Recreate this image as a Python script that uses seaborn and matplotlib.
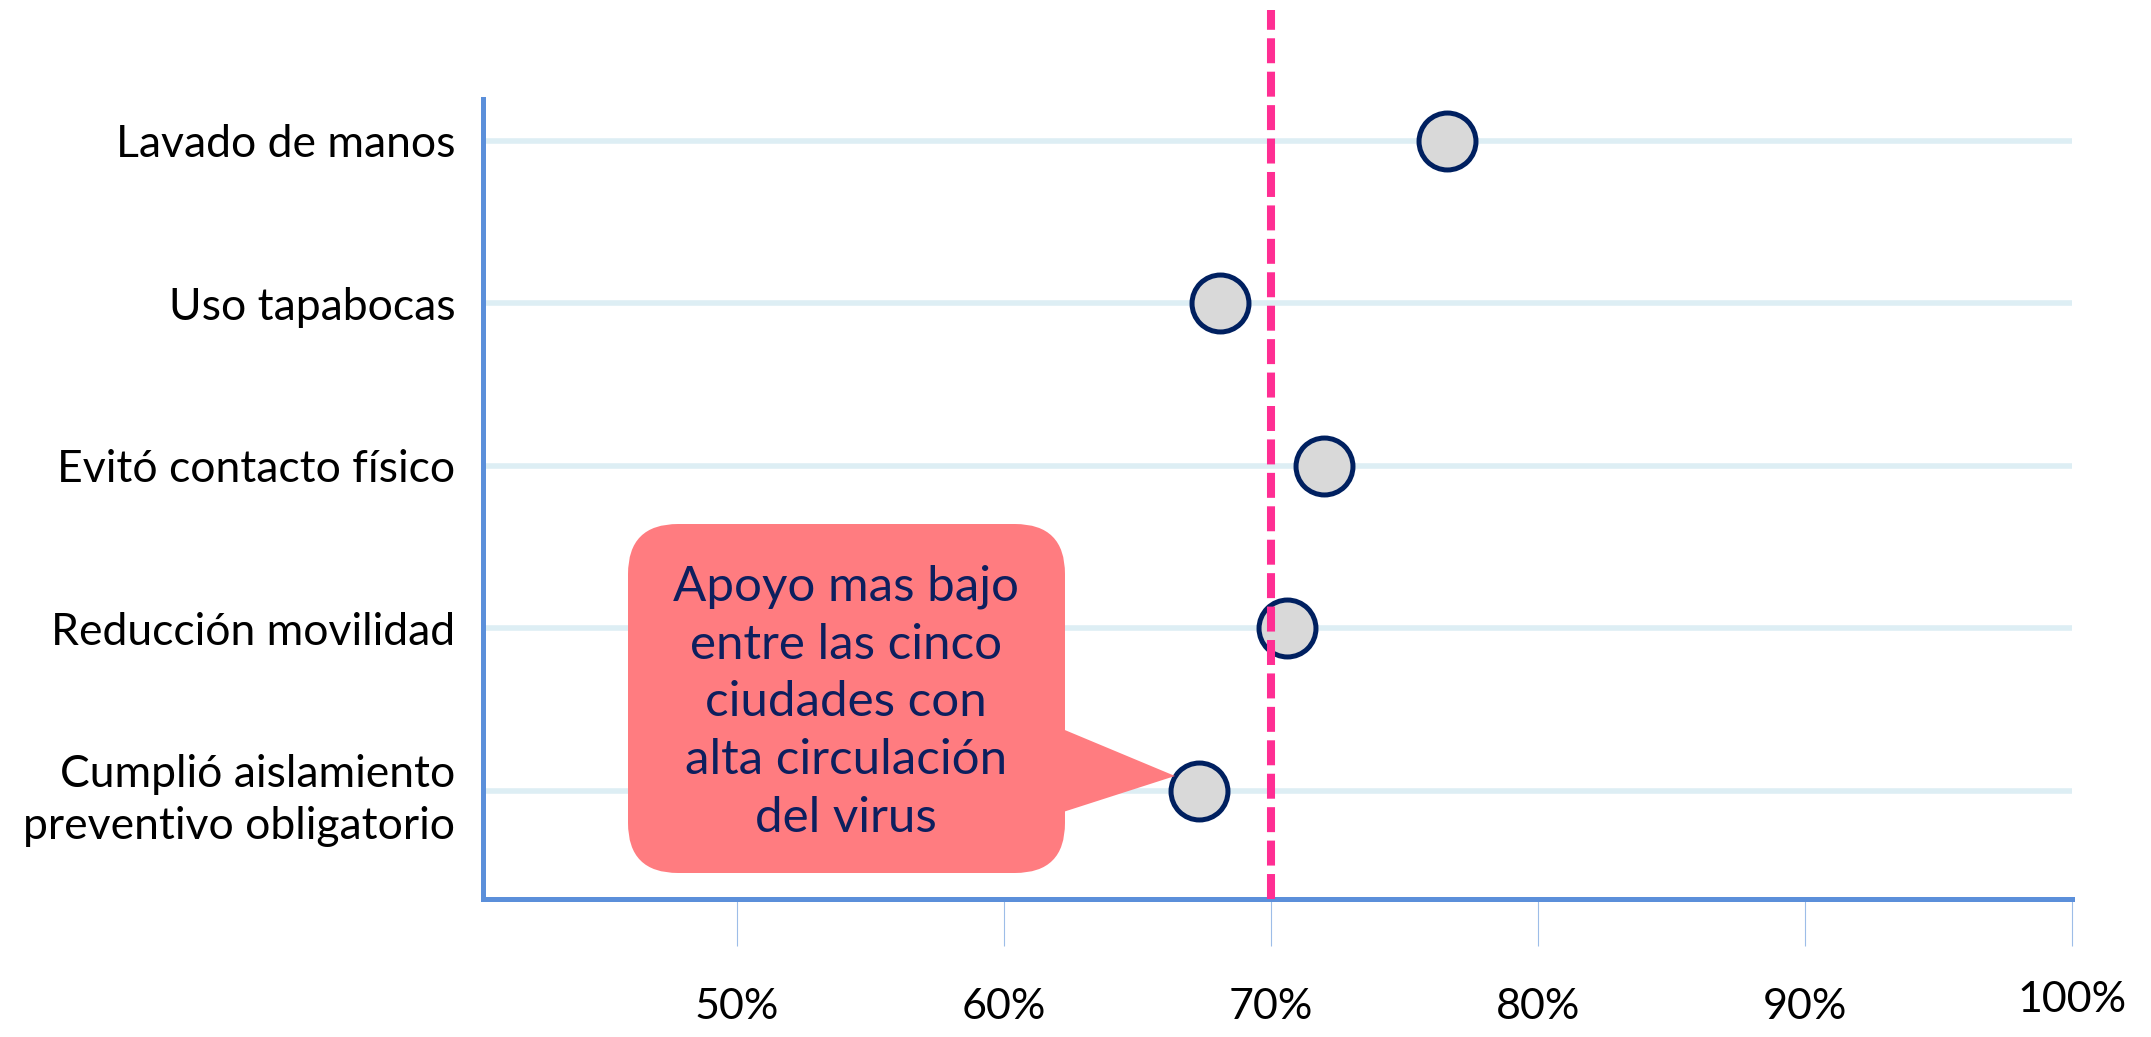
import matplotlib
matplotlib.use("Agg")
import matplotlib.pyplot as plt
import seaborn as sns
import pandas as pd
from matplotlib.patches import FancyBboxPatch, Polygon

# ---- data ----
categories = ["Lavado de manos", "Uso tapabocas", "Evitó contacto físico",
              "Reducción movilidad", "Cumplió aislamiento\npreventivo obligatorio"]
values = [76.6, 68.1, 72.0, 70.6, 67.3]
reference_value = 70
tick_values = [50, 60, 70, 80, 90, 100]
tick_labels = ["50%", "60%", "70%", "80%", "90%", "100%"]
callout_text = "Apoyo mas bajo\nentre las cinco\nciudades con\nalta circulación\ndel virus"

df = pd.DataFrame({"medida": categories, "valor": values})

# ---- style ----
sns.set_theme(style="white")
plt.rcParams["font.family"] = ["Lato", "DejaVu Sans"]

W, H = 2151, 1037
fig = plt.figure(figsize=(W / 100, H / 100), dpi=100)
fig.patch.set_facecolor("white")

def fx(px):
    return px / W

def fy(py):
    return 1 - py / H

ax = fig.add_axes([fx(483), fy(899), fx(2072) - fx(483), fy(10) - fy(899)])
ax.set_facecolor("white")

sns.stripplot(data=df, x="valor", y="medida", order=categories, jitter=False,
              size=41, color="#D9D9D9", edgecolor="#002060", linewidth=3.6,
              ax=ax, zorder=3)

ax.axvline(reference_value, color="#FF2E93", linewidth=5.8, linestyle=(0, (3.1, 1.05)),
           zorder=4)

ax.set_xlim(40.5, 100)
ax.set_ylim(4.665, -0.806)

ax.set_xticks(tick_values)
ax.set_xticklabels(tick_labels)
ax.set_xlabel("")
ax.set_ylabel("")

ax.grid(axis="y", color="#DDEEF4", linewidth=4.0)
ax.grid(axis="x", visible=False)
ax.set_axisbelow(True)

for s in ["top", "right"]:
    ax.spines[s].set_visible(False)
for s in ["left", "bottom"]:
    ax.spines[s].set_color("#5B8FDA")
    ax.spines[s].set_linewidth(3.6)
ax.spines["left"].set_bounds(4.665, -0.258)

ax.tick_params(axis="x", bottom=True, direction="out", length=34, width=0.8,
               color="#9DBDE8", pad=30, labelsize=31, labelcolor="black")
ax.tick_params(axis="y", left=False, length=0, pad=20, labelsize=32, labelcolor="black")
for lbl in ax.get_xticklabels():
    if lbl.get_text() == "100%":
        lbl.set_y(lbl.get_position()[1] + 0.008)
for lbl in ax.get_yticklabels():
    lbl.set_linespacing(1.35)

# ---- callout ----
box = FancyBboxPatch((628, H - 873), 1065 - 628, 873 - 524,
                     boxstyle="round,pad=0,rounding_size=50",
                     transform=None, facecolor="#FF7C80", edgecolor="none", zorder=5)
fig.patches.append(box)
tri = Polygon([(1060, H - 728), (1175, H - 776), (1060, H - 813)], closed=True,
              transform=None, facecolor="#FF7C80", edgecolor="none", zorder=5)
fig.patches.append(tri)
fig.text(fx(846), fy(702), callout_text, ha="center", va="center", fontsize=35.5,
         color="#0D1F5E", linespacing=1.38, zorder=6)

fig.savefig("out.png", dpi=100)
